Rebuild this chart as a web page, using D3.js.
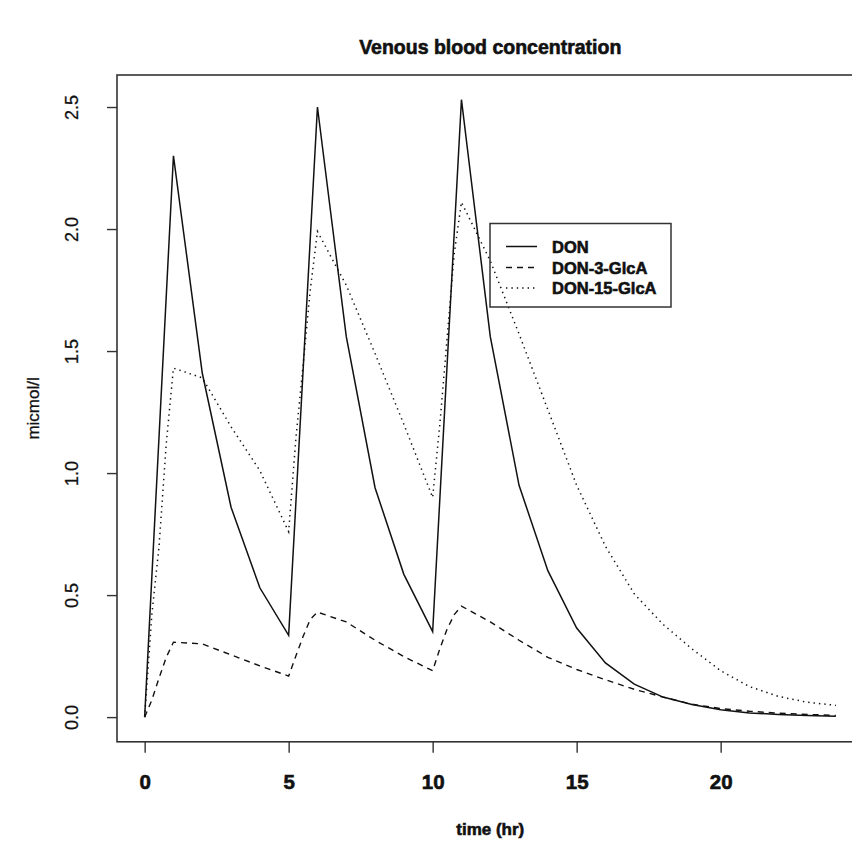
<!DOCTYPE html>
<html>
<head>
<meta charset="utf-8">
<script src="https://cdn.jsdelivr.net/npm/d3@7"></script>
<style>
  html, body { margin: 0; padding: 0; background: #fff; }
  svg { display: block; font-family: "Liberation Sans", Arial, Helvetica, sans-serif; }
</style>
</head>
<body>
<svg id="chart" width="852" height="847"></svg>
<script>
// ---- data ----
const hoursDON = [0,1,2,3,4,5,6,7,8,9,10,11,12,13,14,15,16,17,18,19,20,21,22,23,24];
const don = [0, 2.30, 1.41, 0.86, 0.53, 0.335, 2.50, 1.56, 0.94, 0.585, 0.35, 2.53, 1.56, 0.95, 0.60, 0.365, 0.222, 0.135, 0.082, 0.052, 0.030, 0.017, 0.011, 0.007, 0.003];

const hoursMetab = [0,0.25,0.5,0.75,1, 2,3,4,5, 5.25,5.5,5.75,6, 7,8,9,10, 10.25,10.5,10.75,11, 12,13,14,15,16,17,18,19,20,21,22,23,24];
const don3GlcA = [0,0.07,0.16,0.245,0.307, 0.30,0.255,0.21,0.168, 0.25,0.33,0.40,0.43, 0.39,0.315,0.248,0.19, 0.28,0.36,0.42,0.455, 0.39,0.315,0.245,0.195,0.153,0.114,0.082,0.053,0.035,0.024,0.016,0.011,0.007];
const don15GlcA = [0,0.42,0.70,1.12,1.43, 1.39,1.19,1.01,0.76, 1.14,1.44,1.75,1.99, 1.77,1.49,1.20,0.90, 1.20,1.55,1.90,2.11, 1.87,1.57,1.26,0.95,0.70,0.505,0.38,0.28,0.19,0.125,0.085,0.061,0.048];

const seriesNames = ["DON", "DON-3-GlcA", "DON-15-GlcA"];
const xTicks = [0, 5, 10, 15, 20];
const yTicks = [0, 0.5, 1.0, 1.5, 2.0, 2.5];
const yTickLabels = ["0.0", "0.5", "1.0", "1.5", "2.0", "2.5"];
const titleText = "Venous blood concentration";
const xLabel = "time (hr)";
const yLabel = "micmol/l";

// ---- layout ----
const svg = d3.select("#chart");
svg.append("rect").attr("width", 852).attr("height", 847).attr("fill", "#fff");

const xMin = 0, xMax = 24;
const yMin = 0, yMax = d3.max(don);
const xPad = (xMax - xMin) * 0.04, yPad = (yMax - yMin) * 0.04;

const x = d3.scaleLinear().domain([xMin - xPad, xMax + xPad]).range([117, 863.5]);
const y = d3.scaleLinear().domain([yMin - yPad, yMax + yPad]).range([741.8, 75]);

const heavy = sel => sel.attr("stroke", "#111").attr("stroke-width", 0.6).attr("paint-order", "stroke");

// plot box
svg.append("rect")
  .attr("x", x.range()[0]).attr("y", y.range()[1])
  .attr("width", x.range()[1] - x.range()[0])
  .attr("height", y.range()[0] - y.range()[1])
  .attr("fill", "none").attr("stroke", "#333").attr("stroke-width", 1.6);

// x axis
const xAxis = d3.axisBottom(x).tickValues(xTicks).tickFormat(d3.format("d")).tickSizeInner(11).tickSizeOuter(0).tickPadding(22);
const gx = svg.append("g").attr("transform", `translate(0,${y.range()[0]})`).call(xAxis);
gx.select(".domain").remove();
gx.selectAll(".tick line").attr("stroke", "#333").attr("stroke-width", 1.4);
gx.selectAll(".tick text").attr("fill", "#111").attr("font-size", 20.5).attr("font-weight", "bold")
  .attr("font-family", "'Liberation Sans', Arial, sans-serif").call(heavy);

// y axis
const yAxis = d3.axisLeft(y).tickValues(yTicks).tickFormat((d, i) => yTickLabels[i]).tickSizeInner(10).tickSizeOuter(0);
const gy = svg.append("g").attr("transform", `translate(${x.range()[0]},0)`).call(yAxis);
gy.select(".domain").remove();
gy.selectAll(".tick line").attr("stroke", "#333").attr("stroke-width", 1.4);
gy.selectAll(".tick text")
  .attr("x", 0).attr("dy", null)
  .attr("transform", "translate(-45,0) rotate(-90)")
  .attr("text-anchor", "middle").attr("dominant-baseline", "central")
  .attr("fill", "#111").attr("font-size", 18)
  .attr("font-family", "'Liberation Sans', Arial, sans-serif")
  .attr("stroke", "#111").attr("stroke-width", 0.3);

// lines
const lineGen = d3.line().x(d => x(d[0])).y(d => y(d[1]));
const plotG = svg.append("g");
const styles = [
  { dash: null, width: 1.5 },
  { dash: "6,5", width: 1.4 },
  { dash: "1.4,4", width: 1.5 }
];
const seriesData = [
  hoursDON.map((t, i) => [t, don[i]]),
  hoursMetab.map((t, i) => [t, don3GlcA[i]]),
  hoursMetab.map((t, i) => [t, don15GlcA[i]])
];
seriesData.forEach((data, k) => {
  plotG.append("path")
    .datum(data)
    .attr("d", lineGen)
    .attr("fill", "none")
    .attr("stroke", "#111")
    .attr("stroke-width", styles[k].width)
    .attr("stroke-dasharray", styles[k].dash)
    .attr("stroke-linejoin", "miter");
});

// title and labels
const cx = (x.range()[0] + x.range()[1]) / 2;
const cy = (y.range()[0] + y.range()[1]) / 2;
svg.append("text").attr("x", cx).attr("y", 54).attr("text-anchor", "middle")
  .attr("font-size", 19.5).attr("font-weight", "bold").attr("fill", "#111").text(titleText).call(heavy);
svg.append("text").attr("x", cx).attr("y", 835).attr("text-anchor", "middle")
  .attr("font-size", 17).attr("font-weight", "bold").attr("fill", "#111").text(xLabel).call(heavy);
svg.append("text").attr("transform", `translate(33,${cy}) rotate(-90)`).attr("text-anchor", "middle")
  .attr("dominant-baseline", "central")
  .attr("font-size", 17).attr("fill", "#111").text(yLabel)
  .attr("stroke", "#111").attr("stroke-width", 0.3);

// legend
const lg = svg.append("g");
lg.append("rect").attr("x", 490).attr("y", 223.5).attr("width", 181).attr("height", 83.5)
  .attr("fill", "none").attr("stroke", "#333").attr("stroke-width", 1.5);
const rowY = [246.5, 267.5, 288];
seriesNames.forEach((name, k) => {
  lg.append("line").attr("x1", 506).attr("x2", 537).attr("y1", rowY[k]).attr("y2", rowY[k])
    .attr("stroke", "#111").attr("stroke-width", styles[k].width)
    .attr("stroke-dasharray", styles[k].dash);
  lg.append("text").attr("x", 552).attr("y", rowY[k]).attr("dominant-baseline", "central")
    .attr("font-size", 16.5).attr("font-weight", "bold").attr("fill", "#111").text(name).call(heavy);
});
</script>
</body>
</html>
